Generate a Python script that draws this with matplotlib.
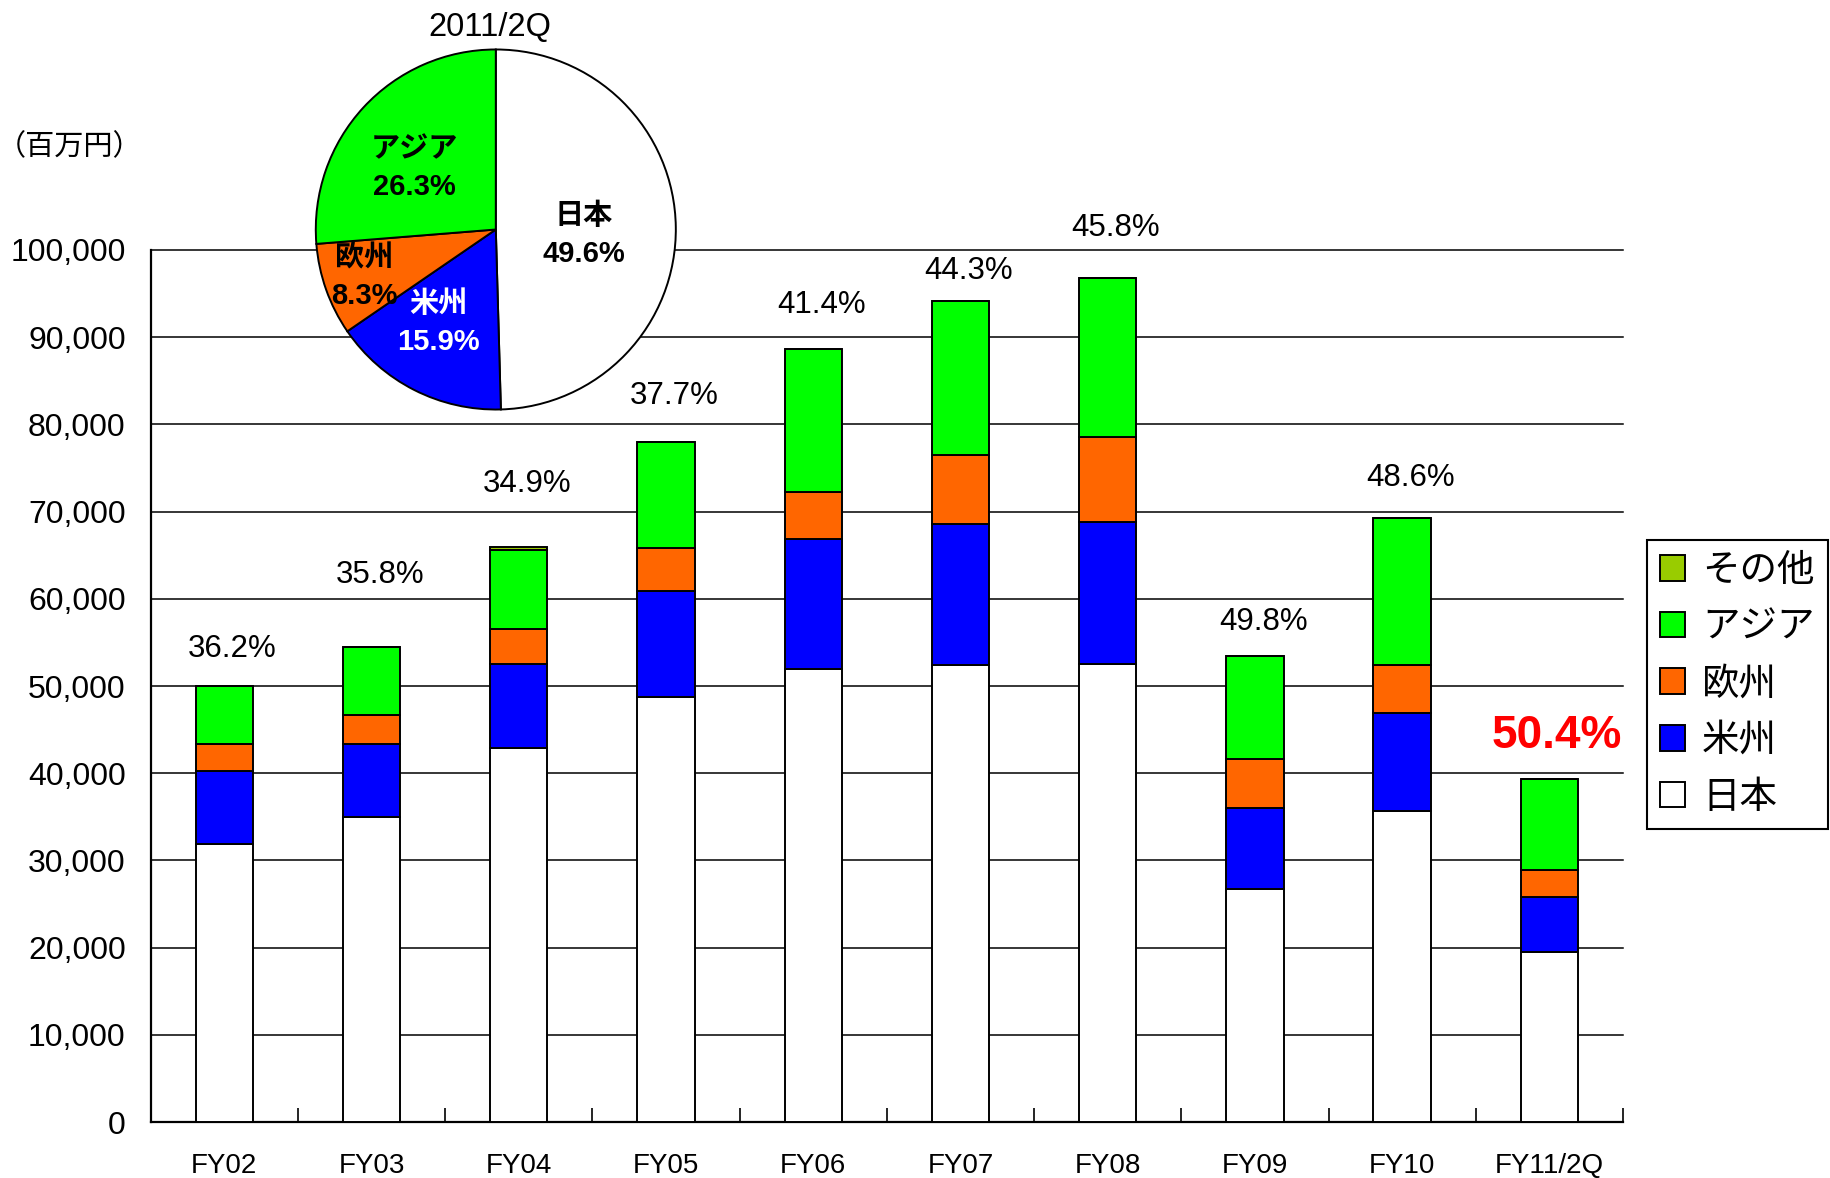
import numpy as np
import matplotlib
matplotlib.use('Agg')
import matplotlib.pyplot as plt
from matplotlib.patches import Patch

plt.rcParams['font.family'] = ['Liberation Sans', 'Noto Sans CJK JP', 'DejaVu Sans']

# Datos: ventas por region (millones de yenes)
years = ['FY02', 'FY03', 'FY04', 'FY05', 'FY06', 'FY07', 'FY08', 'FY09', 'FY10', 'FY11/2Q']
japan = [31900, 35000, 42900, 48700, 52000, 52400, 52500, 26700, 35650, 19450]
americas = [8400, 8300, 9600, 12200, 14800, 16200, 16300, 9300, 11200, 6300]
europe = [3100, 3400, 4000, 4900, 5500, 7900, 9700, 5600, 5600, 3100]
asia = [6600, 7800, 9100, 12200, 16300, 17600, 18300, 11800, 16800, 10500]
other = [0, 0, 300, 0, 0, 0, 0, 0, 0, 0]
overseas = ['36.2%', '35.8%', '34.9%', '37.7%', '41.4%', '44.3%', '45.8%', '49.8%', '48.6%', '50.4%']

series_names = ['日本', '米州', '欧州', 'アジア', 'その他']
series_colors = ['#FFFFFF', '#0000FF', '#FF6600', '#00FF00', '#99CC00']

# Pie 2011/2Q
pie_names = ['日本', '米州', '欧州', 'アジア']
pie_shares = [49.6, 15.9, 8.3, 26.3]
pie_colors = ['#FFFFFF', '#0000FF', '#FF6600', '#00FF00']
pie_text_colors = ['black', 'white', 'black', 'black']

# Posiciones de las etiquetas (estilo, no datos)
label_lift = [21, 46, 40, 27, 26, 16.5, 30, 19, 23, 22]   # puntos sobre la barra
pie_label_xy = [(0.49, -0.03), (-0.32, -0.52), (-0.73, -0.265), (-0.45, 0.34)]

fig = plt.figure(figsize=(18.31, 11.78), dpi=100)
ax = fig.add_axes([0.0823, 0.0475, 0.8041, 0.7403])

x = np.arange(len(years))
bottom = np.zeros(len(years))
for vals, name, col in zip([japan, americas, europe, asia, other], series_names, series_colors):
    ax.bar(x, vals, width=0.39, bottom=bottom, color=col, edgecolor='black',
           linewidth=1.4, label=name, zorder=3)
    bottom = bottom + np.array(vals)

# Porcentaje de ventas en el extranjero
for i, lab in enumerate(overseas):
    if i == len(overseas) - 1:
        ax.annotate(lab, (x[i], bottom[i]), xytext=(5, label_lift[i]), textcoords='offset points',
                    ha='center', va='baseline', fontsize=33, color='red', fontweight='bold')
    else:
        ax.annotate(lab, (x[i], bottom[i]), xytext=(6, label_lift[i]), textcoords='offset points',
                    ha='center', va='baseline', fontsize=22.5, color='black')

ax.set_xlim(-0.5, 9.5)
ax.set_ylim(0, 100000)
ax.set_yticks(range(0, 100001, 10000))
ax.set_yticklabels([f'{v:,}' for v in range(0, 100001, 10000)])
ax.yaxis.grid(True, color='black', linewidth=1.1)
for gl in ax.get_ygridlines():
    gl.set_clip_on(False)
ax.set_axisbelow(True)
ax.tick_params(axis='y', length=0, pad=18, labelsize=23)

ax.set_xticks(np.arange(0.5, 10, 1))
ax.tick_params(axis='x', which='major', direction='in', length=10, width=1.2, labelbottom=False)
ax.set_xticks(x, minor=True)
ax.set_xticklabels(years, minor=True)
ax.tick_params(axis='x', which='minor', length=0, pad=22, labelsize=20)

for s in ['top', 'right']:
    ax.spines[s].set_visible(False)
for s in ['left', 'bottom']:
    ax.spines[s].set_color('black')
    ax.spines[s].set_linewidth(1.6)

fig.text(70 / 1831, 1 - 147 / 1178, '（百万円）', ha='center', va='center', fontsize=21)

# Leyenda
handles = [Patch(facecolor=c, edgecolor='black', linewidth=1.4) for c in series_colors][::-1]
leg = ax.legend(handles, series_names[::-1], loc='upper left',
                bbox_to_anchor=(1647 / 1831, 1 - 540 / 1178), bbox_transform=fig.transFigure,
                fontsize=27, frameon=True, fancybox=False, framealpha=1, edgecolor='black',
                handlelength=0.67, handleheight=0.67, handletextpad=0.45, labelspacing=0.55,
                borderpad=0.35, borderaxespad=0)
leg.get_frame().set_linewidth(1.5)

# Grafico circular
pax = fig.add_axes([(495.8 - 182) / 1831, (1178 - 229.5 - 182) / 1178, 364 / 1831, 364 / 1178])
wedges, _ = pax.pie(pie_shares, colors=pie_colors, startangle=90, counterclock=False,
                    wedgeprops=dict(edgecolor='black', linewidth=1.4))
pax.set_xlim(-1.011, 1.011)
pax.set_ylim(-1.011, 1.011)
for (lx, ly), name, val, tc in zip(pie_label_xy, pie_names, pie_shares, pie_text_colors):
    pax.text(lx, ly, f'{name}\n{val}%', ha='center', va='center',
             fontsize=21, fontweight='bold', color=tc, linespacing=1.45)

fig.text(490 / 1831, 1 - 27 / 1178, '2011/2Q', ha='center', va='center', fontsize=23.5)

plt.savefig('out.png', dpi=100)
